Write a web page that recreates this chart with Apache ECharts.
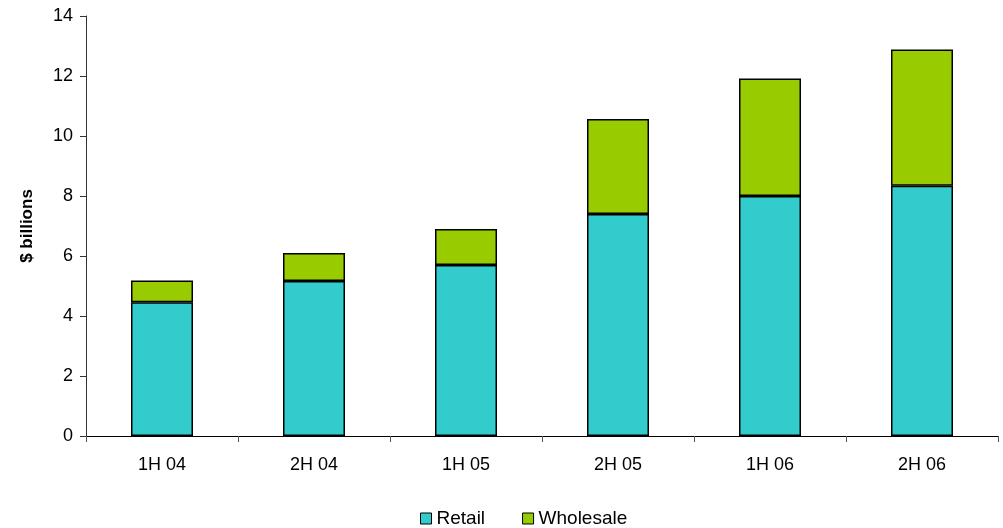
<!DOCTYPE html>
<html>
<head>
<meta charset="utf-8">
<script src="https://cdn.jsdelivr.net/npm/echarts@6/dist/echarts.min.js"></script>
<style>
  html, body { margin: 0; padding: 0; background: #fff; }
  #chart { width: 1003px; height: 528px; }
</style>
</head>
<body>
<div id="chart"></div>
<script>
const categories = ['1H 04', '2H 04', '1H 05', '2H 05', '1H 06', '2H 06']
const retail = [4.46, 5.17, 5.7, 7.4, 8.0, 8.34]
const wholesale = [0.72, 0.93, 1.2, 3.17, 3.92, 4.54]

const myChart = echarts.init(document.getElementById('chart'))

const font = 'Liberation Sans, Arial, sans-serif'

const option = {
    animation: false,
    backgroundColor: '#fff',
    grid: {
        left: 86,
        right: 5,
        top: 16,
        bottom: 92,
    },
    legend: {
        top: 504,
        left: 415,
        itemWidth: 11,
        itemHeight: 11,
        itemGap: 37,
        icon: 'rect',
        itemStyle: { borderColor: '#000', borderWidth: 1 },
        textStyle: { fontFamily: font, fontSize: 19, color: '#000' },
        data: ['Retail', 'Wholesale'],
    },
    xAxis: {
        type: 'category',
        data: categories,
        axisLine: { lineStyle: { color: '#000', width: 1 } },
        axisTick: { show: true, length: 6, alignWithLabel: false, lineStyle: { color: '#555' } },
        axisLabel: { fontFamily: font, fontSize: 18, color: '#000', margin: 20 },
    },
    yAxis: {
        type: 'value',
        min: 0,
        max: 14,
        interval: 2,
        name: '$ billions',
        nameLocation: 'middle',
        nameGap: 50,
        nameRotate: 90,
        nameTextStyle: { fontFamily: font, fontSize: 17, fontWeight: 'bold', color: '#000' },
        axisLine: { show: true, lineStyle: { color: '#333', width: 1 } },
        axisTick: { show: true, length: 6, lineStyle: { color: '#333' } },
        axisLabel: { fontFamily: font, fontSize: 18, color: '#000', margin: 13 },
        splitLine: { show: false },
    },
    series: [
        {
            name: 'Retail',
            type: 'bar',
            stack: 'total',
            barWidth: 62,
            data: retail,
            itemStyle: { color: '#33CCCC', borderColor: '#000', borderWidth: 1.5 },
        },
        {
            name: 'Wholesale',
            type: 'bar',
            stack: 'total',
            barWidth: 62,
            data: wholesale,
            itemStyle: { color: '#99CC00', borderColor: '#000', borderWidth: 1.5 },
        },
    ],
}

myChart.setOption(option)
</script>
</body>
</html>
